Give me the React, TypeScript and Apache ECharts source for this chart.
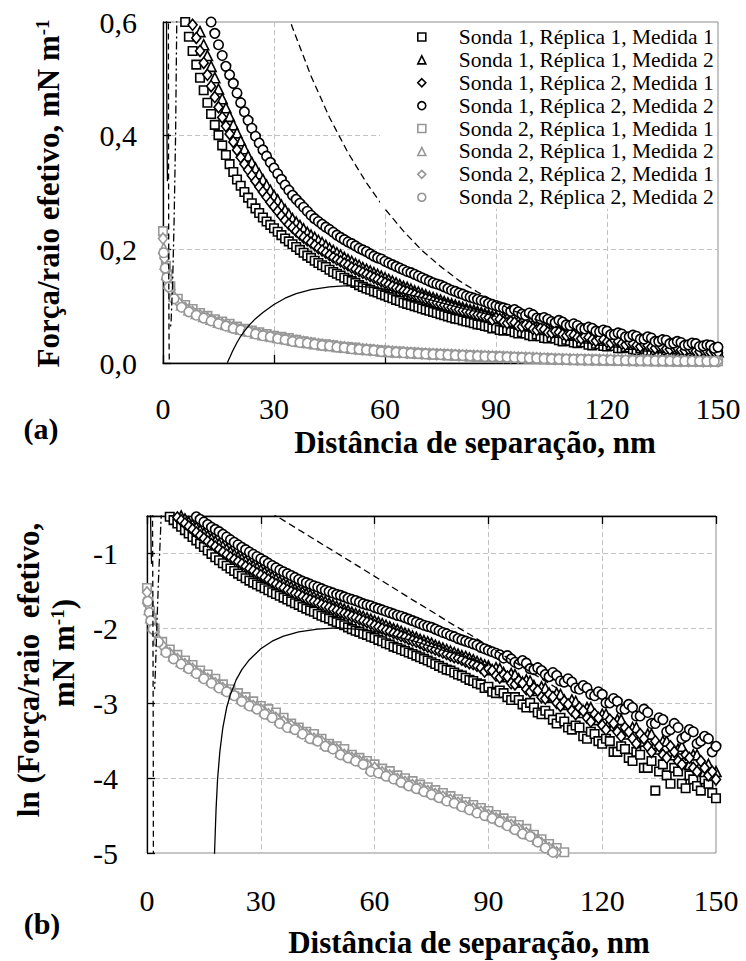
import React, { useEffect, useRef } from 'react';
import * as echarts from 'echarts';

const FONT = 'Liberation Serif';

// ---------- x values (separation distance, nm) ----------
const distS1 = [5,6,7,8,9,10,11,12,13,14,15,16,17,18,19,20,21,22,23,24,25,26,27,28,29,30,31,32,33,34,35,36,37,38,39,40,41,42,43,44,45,46,47,48,49,50,51,52,53,54,55,56,57,58,59,60,61,62,63,64,65,66,67,68,69,70,71,72,73,74,75,76,77,78,79,80,81,82,83,84,85,86,87,88,89,90,91,92,93,94,95,96,97,98,99,100,101,102,103,104,105,106,107,108,109,110,111,112,113,114,115,116,117,118,119,120,121,122,123,124,125,126,127,128,129,130,131,132,133,134,135,136,137,138,139,140,141,142,143,144,145,146,147,148,149,150];
const distS2Even = [0,0.4,0.8,1.2,2,4,6,8,10,12,14,16,18,20,22,24,26,28,30,32,34,36,38,40,42,44,46,48,50,52,54,56,58,60,62,64,66,68,70,72,74,76,78,80,82,84,86,88,90,92,94,96,98,100,102,104,106,108,110,112,114,116,118,120,122,124,126,128,130,132,134,136,138,140,142,144,146,148,150];
const distS2Odd = [0.2,0.6,1,1.6,3,5,7,9,11,13,15,17,19,21,23,25,27,29,31,33,35,37,39,41,43,45,47,49,51,53,55,57,59,61,63,65,67,69,71,73,75,77,79,81,83,85,87,89,91,93,95,97,99,101,103,105,107,109,111,113,115,117,119,121,123,125,127,129,131,133,135,137,139,141,143,145,147,149];

// ---------- force / effective radius, mN m-1 ----------
const s1r1m1 = [
  0.63,0.600,0.574,0.549,0.525,0.502,0.480,0.458,0.438,0.419,
  0.401,0.383,0.366,0.350,0.336,0.323,0.312,0.301,0.291,0.281,
  0.272,0.264,0.256,0.249,0.243,0.237,0.231,0.225,0.219,0.214,
  0.209,0.204,0.199,0.194,0.189,0.185,0.180,0.176,0.172,0.169,
  0.164,0.160,0.157,0.154,0.150,0.147,0.144,0.141,0.137,0.134,
  0.131,0.129,0.126,0.124,0.121,0.119,0.116,0.114,0.111,0.109,
  0.106,0.104,0.102,0.100,0.098,0.096,0.094,0.092,0.090,0.088,
  0.086,0.084,0.082,0.080,0.078,0.077,0.075,0.073,0.072,0.070,
  0.068,0.067,0.065,0.064,0.061,0.062,0.058,0.057,0.059,0.057,
  0.054,0.052,0.054,0.052,0.049,0.047,0.050,0.047,0.044,0.043,
  0.045,0.043,0.040,0.038,0.041,0.039,0.036,0.035,0.037,0.036,
  0.032,0.031,0.034,0.033,0.030,0.029,0.031,0.030,0.026,0.026,
  0.028,0.027,0.024,0.023,0.026,0.025,0.021,0.021,0.023,0.0155,
  0.020,0.022,0.019,0.017,0.021,0.020,0.017,0.016,0.019,0.018,
  0.0165,0.0155,0.018,0.017,0.015,0.014];
const s1r1m2 = [
  0.70,0.67,0.64,0.62,0.607,0.583,0.560,0.541,0.522,0.502,
  0.482,0.465,0.449,0.434,0.419,0.405,0.391,0.377,0.364,0.353,
  0.343,0.333,0.323,0.313,0.304,0.295,0.287,0.278,0.270,0.262,
  0.254,0.248,0.242,0.236,0.230,0.225,0.221,0.216,0.212,0.207,
  0.202,0.198,0.194,0.190,0.186,0.182,0.179,0.175,0.172,0.168,
  0.165,0.162,0.159,0.156,0.153,0.150,0.147,0.144,0.141,0.138,
  0.135,0.133,0.130,0.127,0.125,0.122,0.120,0.117,0.115,0.113,
  0.111,0.108,0.106,0.104,0.102,0.100,0.098,0.096,0.094,0.093,
  0.091,0.089,0.087,0.085,0.083,0.082,0.078,0.080,0.079,0.075,
  0.071,0.074,0.073,0.069,0.066,0.068,0.067,0.063,0.059,0.062,
  0.061,0.057,0.054,0.057,0.056,0.052,0.049,0.052,0.051,0.047,
  0.044,0.047,0.047,0.043,0.040,0.043,0.043,0.039,0.037,0.040,
  0.040,0.036,0.033,0.036,0.036,0.032,0.030,0.033,0.033,0.029,
  0.027,0.030,0.030,0.026,0.025,0.027,0.028,0.024,0.022,0.025,
  0.025,0.022,0.020,0.022,0.019,0.020];
const s1r2m1 = [
  0.67,0.644,0.619,0.595,0.572,0.549,0.528,0.507,0.487,0.468,
  0.450,0.432,0.417,0.403,0.389,0.375,0.362,0.350,0.340,0.330,
  0.320,0.310,0.301,0.292,0.283,0.275,0.267,0.259,0.251,0.244,
  0.238,0.232,0.226,0.221,0.216,0.212,0.207,0.202,0.198,0.194,
  0.190,0.186,0.182,0.179,0.175,0.172,0.168,0.165,0.162,0.159,
  0.156,0.153,0.150,0.147,0.144,0.141,0.138,0.135,0.132,0.130,
  0.127,0.125,0.122,0.120,0.117,0.115,0.113,0.111,0.108,0.106,
  0.104,0.102,0.100,0.098,0.096,0.094,0.092,0.091,0.089,0.087,
  0.085,0.084,0.082,0.080,0.076,0.079,0.077,0.072,0.070,0.073,
  0.071,0.065,0.064,0.067,0.065,0.060,0.058,0.061,0.059,0.054,
  0.053,0.056,0.054,0.050,0.048,0.051,0.049,0.045,0.043,0.047,
  0.045,0.041,0.039,0.043,0.041,0.037,0.035,0.040,0.038,0.034,
  0.032,0.036,0.034,0.031,0.029,0.033,0.031,0.028,0.026,0.030,
  0.028,0.025,0.024,0.028,0.026,0.023,0.022,0.025,0.024,0.021,
  0.020,0.023,0.021,0.019,0.020,0.018];
const s1r2m2 = [
  0.80,0.78,0.75,0.72,0.690,0.665,0.640,0.620,0.600,0.580,
  0.560,0.541,0.522,0.507,0.492,0.475,0.458,0.442,0.427,0.413,
  0.399,0.387,0.375,0.364,0.353,0.343,0.333,0.323,0.313,0.304,
  0.295,0.288,0.281,0.274,0.267,0.260,0.254,0.249,0.244,0.239,
  0.235,0.230,0.225,0.221,0.217,0.213,0.210,0.206,0.202,0.199,
  0.196,0.192,0.188,0.185,0.183,0.179,0.176,0.173,0.170,0.167,
  0.164,0.161,0.159,0.156,0.153,0.150,0.147,0.144,0.141,0.139,
  0.137,0.134,0.131,0.128,0.126,0.123,0.121,0.118,0.116,0.114,
  0.112,0.110,0.108,0.105,0.103,0.101,0.099,0.097,0.095,0.091,
  0.094,0.090,0.086,0.084,0.088,0.085,0.079,0.078,0.080,0.077,
  0.073,0.071,0.075,0.072,0.067,0.066,0.069,0.066,0.061,0.060,
  0.063,0.061,0.056,0.055,0.058,0.056,0.050,0.050,0.053,0.051,
  0.046,0.046,0.049,0.047,0.042,0.042,0.046,0.044,0.038,0.038,
  0.041,0.040,0.034,0.035,0.038,0.036,0.031,0.032,0.035,0.034,
  0.029,0.030,0.032,0.031,0.026,0.028];
const s2r1m1 = [0.232,0.193,0.171,0.156,0.135,0.113,0.102,0.095,0.088,0.083,0.077,0.073,0.069,0.064,0.060,0.057,0.054,0.051,0.048,0.046,0.044,0.041,0.038,0.036,0.034,0.033,0.031,0.029,0.028,0.027,0.025,0.024,0.023,0.022,0.0208,
  0.0201,0.0190,0.0183,0.0176,0.0168,0.0162,0.0156,0.0150,0.0144,0.0138,0.0133,0.0128,0.0123,0.0118,0.0112,0.0107,0.0103,0.0098,0.0093,0.0086,0.0081,0.0076,0.0072,0.0068,0.0066,0.0062,0.0060,0.0058,0.0056,0.0054,
  0.0052,0.0050,0.0048,0.0046,0.0045,0.0043,0.0042,0.0040,0.0038,0.0036,0.0035,0.0034,0.0032,0.0031];
const s2r1m2 = [0.202,0.174,0.156,0.140,0.118,0.102,0.094,0.087,0.082,0.077,0.072,0.068,0.064,0.060,0.057,0.053,0.050,0.048,0.045,0.043,0.040,0.038,0.036,0.034,0.032,0.031,0.029,0.028,0.026,0.025,0.024,0.023,0.021,0.0204,
  0.0196,0.0189,0.0180,0.0172,0.0166,0.0159,0.0153,0.0147,0.0141,0.0136,0.0130,0.0125,0.0120,0.0116,0.0111,0.0106,0.0101,0.0096,0.0091,0.0087,0.0081,0.0075,0.0071,0.0067,0.0064,0.0062,0.0059,0.0057,0.0055,0.0053,
  0.0051,0.0049,0.0047,0.0045,0.0044,0.0042,0.0041,0.0039,0.0038,0.0036,0.0035,0.0034,0.0032,0.0031];
const s2r2m1 = [0.219,0.184,0.162,0.148,0.129,0.108,0.097,0.090,0.084,0.079,0.073,0.069,0.065,0.061,0.057,0.054,0.051,0.048,0.046,0.043,0.041,0.039,0.037,0.035,0.033,0.031,0.030,0.028,0.027,0.025,0.024,0.023,0.022,0.021,0.0198,
  0.0190,0.0181,0.0174,0.0167,0.0160,0.0154,0.0148,0.0143,0.0137,0.0132,0.0126,0.0122,0.0117,0.0112,0.0107,0.0102,0.0098,0.0093,0.0088,0.0082,0.0077,0.0072,0.0068,0.0064,0.0062,0.0059,0.0057,0.0055,0.0053,0.0051,
  0.0049,0.0047,0.0046,0.0044,0.0042,0.0041,0.0039,0.0038,0.0036,0.0035,0.0034,0.0032,0.0031,0.0030];
const s2r2m2 = [0.194,0.167,0.150,0.134,0.113,0.098,0.090,0.084,0.079,0.074,0.069,0.065,0.061,0.058,0.055,0.051,0.048,0.046,0.043,0.041,0.038,0.036,0.035,0.033,0.031,0.030,0.028,0.027,0.025,0.024,0.023,0.022,0.020,0.0196,
  0.0188,0.0181,0.0173,0.0165,0.0159,0.0153,0.0147,0.0141,0.0135,0.0131,0.0125,0.0120,0.0115,0.0111,0.0107,0.0102,0.0097,0.0092,0.0087,0.0084,0.0078,0.0072,0.0068,0.0064,0.0061,0.0060,0.0057,0.0055,0.0053,0.0051,
  0.0049,0.0047,0.0045,0.0043,0.0042,0.0040,0.0039,0.0037,0.0036,0.0035,0.0034,0.0033,0.0031,0.0030];

// ---------- model curves ----------
const fitDashX = [30,35,40,45,50,55,60,65,70,75,80,85,90,95,100,105,108];
const fitDashY = [0.688,0.590,0.505,0.432,0.370,0.317,0.271,0.232,0.198,0.170,0.145,0.125,0.107,0.0913,0.0782,0.0669,0.0610];
const fitSolidX = [17.4,17.8,18.2,18.6,19.2,20,21,22,23.5,25,27,30,33,36,40,45,50,55,60,70,80,90];
const fitSolidY = [0.0005,0.0067,0.012,0.018,0.026,0.036,0.047,0.056,0.068,0.078,0.089,0.103,0.114,0.122,0.129,0.134,0.136,0.134,0.130,0.115,0.098,0.082];
const nearDashX = [1.45,1.5,1.55,1.6,1.65,1.7];
const nearDashY = [0.65,0.35,0.18,0.08,0.03,0.004];
const nearDashDotX = [3.8,3.4,3.0,2.6,2.2,2.0];
const nearDashDotY = [0.65,0.40,0.25,0.14,0.075,0.06];
const nearSolidX = [0.9,1.0,1.1,1.2];
const nearSolidY = [0.7,0.5,0.38,0.32];

// ---------- tick labels ----------
const xTicks = [0, 30, 60, 90, 120, 150];

const BLACK = '#000';
const GRAY = '#979797';

const markerDefs = [
  { name: 'Sonda 1, Réplica 1, Medida 1', xs: distS1, ys: s1r1m1, symbol: 'rect', size: 8.5, color: BLACK },
  { name: 'Sonda 1, Réplica 1, Medida 2', xs: distS1, ys: s1r1m2, symbol: 'triangle', size: 10, color: BLACK },
  { name: 'Sonda 1, Réplica 2, Medida 1', xs: distS1, ys: s1r2m1, symbol: 'diamond', size: [9, 11], color: BLACK },
  { name: 'Sonda 1, Réplica 2, Medida 2', xs: distS1, ys: s1r2m2, symbol: 'circle', size: 9.5, color: BLACK },
  { name: 'Sonda 2, Réplica 1, Medida 1', xs: distS2Even, ys: s2r1m1, symbol: 'rect', size: 8.5, color: GRAY },
  { name: 'Sonda 2, Réplica 1, Medida 2', xs: distS2Odd, ys: s2r1m2, symbol: 'triangle', size: 10, color: GRAY },
  { name: 'Sonda 2, Réplica 2, Medida 1', xs: distS2Even, ys: s2r2m1, symbol: 'diamond', size: [9, 11], color: GRAY },
  { name: 'Sonda 2, Réplica 2, Medida 2', xs: distS2Odd, ys: s2r2m2, symbol: 'circle', size: 9.5, color: GRAY },
];

const lineDefs = [
  { xs: nearSolidX, ys: nearSolidY, type: 'solid' as any },
  { xs: nearDashX, ys: nearDashY, type: [6, 4] as any },
  { xs: nearDashDotX, ys: nearDashDotY, type: [8, 3, 2, 3] as any },
  { xs: fitSolidX, ys: fitSolidY, type: 'solid' as any },
  { xs: fitDashX, ys: fitDashY, type: [7, 4] as any },
];

const pairs = (xs: number[], ys: number[]) => xs.map((x, i) => [x, ys[i]]);

function buildSeries(gridIdx: number) {
  const xAxisIndex = gridIdx === 0 ? 0 : 1;
  const yAxisIndex = gridIdx;
  const out: any[] = [];
  lineDefs.forEach((l) => {
    out.push({
      type: 'line', xAxisIndex, yAxisIndex, data: pairs(l.xs, l.ys), symbol: 'none', silent: true,
      lineStyle: { color: BLACK, width: 1.3, type: l.type }, clip: true,
    });
  });
  markerDefs.forEach((m) => {
    out.push({
      type: 'scatter', name: m.name, xAxisIndex, yAxisIndex, data: pairs(m.xs, m.ys),
      symbol: m.symbol, symbolSize: m.size, clip: true,
      itemStyle: { color: '#fff', borderColor: m.color, borderWidth: 1.6, opacity: 1 },
    });
  });
  return out;
}

const tickLabelStyle = { fontFamily: FONT, fontSize: 30, color: BLACK };
const splitStyle = { show: true, showMinLine: false, showMaxLine: false, lineStyle: { color: '#c2c2c2', width: 1, type: [5, 3] as any } };

const option: any = {
  animation: false,
  backgroundColor: '#fff',
  textStyle: { fontFamily: FONT },
  grid: [
    { left: 163, top: 22, width: 555, height: 341, show: true, borderColor: '#8c8c8c', borderWidth: 1, backgroundColor: 'transparent' },
    { left: 147, top: 516, width: 569, height: 337, show: true, borderColor: '#8c8c8c', borderWidth: 1, backgroundColor: 'transparent' },
  ],
  xAxis: [
    {
      gridIndex: 0, type: 'value', min: xTicks[0], max: xTicks[xTicks.length - 1], interval: 30, position: 'bottom',
      axisLine: { show: true, onZero: false, lineStyle: { color: BLACK, width: 1.3 } },
      axisTick: { show: true, inside: true, length: 8, lineStyle: { color: BLACK, width: 1.3 } },
      axisLabel: { ...tickLabelStyle, margin: 30 },
      splitLine: splitStyle,
    },
    {
      gridIndex: 1, type: 'value', min: xTicks[0], max: xTicks[xTicks.length - 1], interval: 30, position: 'bottom',
      axisLine: { show: false, onZero: false },
      axisTick: { show: false },
      axisLabel: { ...tickLabelStyle, margin: 32 },
      splitLine: splitStyle,
    },
    {
      gridIndex: 1, type: 'value', min: xTicks[0], max: xTicks[xTicks.length - 1], interval: 30, position: 'top',
      axisLine: { show: true, onZero: false, lineStyle: { color: BLACK, width: 1.3 } },
      axisTick: { show: true, inside: true, length: 8, lineStyle: { color: BLACK, width: 1.3 } },
      axisLabel: { show: false },
      splitLine: { show: false },
    },
  ],
  yAxis: [
    {
      gridIndex: 0, type: 'value', min: 0, max: 0.6, interval: 0.2,
      axisLine: { show: true, onZero: false, lineStyle: { color: BLACK, width: 1.3 } },
      axisTick: { show: true, inside: true, length: 8, lineStyle: { color: BLACK, width: 1.3 } },
      axisLabel: { ...tickLabelStyle, margin: 26, formatter: (v: number) => v.toFixed(1).replace('.', ',') },
      splitLine: splitStyle,
    },
    {
      gridIndex: 1, type: 'log', logBase: Math.E, min: Math.exp(-5), max: Math.exp(-0.5),
      axisLine: { show: true, onZero: false, lineStyle: { color: BLACK, width: 1.3 } },
      axisTick: { show: true, inside: true, length: 8, lineStyle: { color: BLACK, width: 1.3 } },
      axisLabel: {
        ...tickLabelStyle, margin: 29,
        formatter: (v: number) => {
          const l = Math.log(v);
          const r = Math.round(l);
          return Math.abs(l - r) < 1e-4 ? String(r) : '';
        },
      },
      splitLine: splitStyle,
    },
  ],
  legend: {
    data: markerDefs.map((m) => ({
      name: m.name, icon: m.symbol,
      itemStyle: { color: '#fff', borderColor: m.color, borderWidth: 1.6 },
    })),
    orient: 'vertical', align: 'left', left: 380, top: 23,
    padding: [2.5, 3, 0, 37], itemWidth: 8, itemHeight: 8, itemGap: 0,
    selectedMode: false, backgroundColor: '#fff', borderWidth: 0,
    textStyle: { fontFamily: FONT, fontSize: 21.5, color: BLACK, lineHeight: 22.9, padding: [0, 0, 0, 28] },
  },
  graphic: [
    {
      type: 'text', x: 48, y: 193.5, rotation: Math.PI / 2,
      style: {
        text: '{t|Força/raio efetivo, mN m}{s|-1}', align: 'center', verticalAlign: 'middle',
        fontFamily: FONT, fontSize: 31, fontWeight: 'bold', fill: BLACK,
        rich: {
          t: { fontFamily: FONT, fontSize: 31, fontWeight: 'bold', fill: BLACK },
          s: { fontFamily: FONT, fontSize: 19, fontWeight: 'bold', fill: BLACK, verticalAlign: 'top' },
        },
      },
    },
    {
      type: 'text', x: 28, y: 670, rotation: Math.PI / 2,
      style: { text: 'ln (Força/raio  efetivo,', align: 'center', verticalAlign: 'middle', fontFamily: FONT, fontSize: 31, fontWeight: 'bold', fill: BLACK },
    },
    {
      type: 'text', x: 63, y: 653, rotation: Math.PI / 2,
      style: {
        text: '{t|mN m}{s|-1}{t|)}', align: 'center', verticalAlign: 'middle',
        fontFamily: FONT, fontSize: 31, fontWeight: 'bold', fill: BLACK,
        rich: {
          t: { fontFamily: FONT, fontSize: 31, fontWeight: 'bold', fill: BLACK },
          s: { fontFamily: FONT, fontSize: 19, fontWeight: 'bold', fill: BLACK, verticalAlign: 'top' },
        },
      },
    },
    {
      type: 'text', x: 475, y: 442,
      style: { text: 'Distância de separação, nm', align: 'center', verticalAlign: 'middle', fontFamily: FONT, fontSize: 31, fontWeight: 'bold', fill: BLACK },
    },
    {
      type: 'text', x: 469, y: 942,
      style: { text: 'Distância de separação, nm', align: 'center', verticalAlign: 'middle', fontFamily: FONT, fontSize: 31, fontWeight: 'bold', fill: BLACK },
    },
    {
      type: 'text', x: 41, y: 428,
      style: { text: '(a)', align: 'center', verticalAlign: 'middle', fontFamily: FONT, fontSize: 30, fontWeight: 'bold', fill: BLACK },
    },
    {
      type: 'text', x: 42, y: 923,
      style: { text: '(b)', align: 'center', verticalAlign: 'middle', fontFamily: FONT, fontSize: 30, fontWeight: 'bold', fill: BLACK },
    },
  ],
  series: [...buildSeries(0), ...buildSeries(1)],
};

export default function App() {
  const ref = useRef<HTMLDivElement>(null);
  useEffect(() => {
    if (!ref.current) return;
    const chart = echarts.init(ref.current, undefined, { renderer: 'svg' });
    chart.setOption(option);
    return () => chart.dispose();
  }, []);
  return (
    <div
      ref={ref}
      style={{ position: 'fixed', left: 0, top: 0, width: 746, height: 961, background: '#fff' }}
    />
  );
}
